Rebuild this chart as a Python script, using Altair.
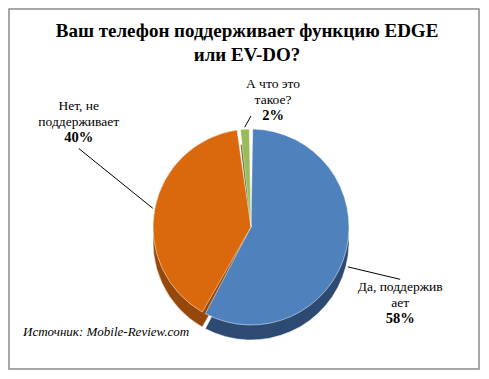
import altair as alt
import pandas as pd

# ---- data ----
title_text = "Ваш телефон поддерживает функцию EDGE\nили EV-DO?"
categories = ["Да, поддерживает", "Нет, не поддерживает", "А что это такое?"]
label_lines = ["Да, поддержив\nает", "Нет, не\nподдерживает", "А что это\nтакое?"]
values = [58, 40, 2]
source_text = "Источник: Mobile-Review.com"

df = pd.DataFrame({"cat": categories, "label": label_lines, "value": values,
                   "idx": list(range(len(categories)))})

# ---- layout / style ----
W, H = 470, 360
CX, CY = 242, 218
R = 98
DEPTH = 15
FONT = "Liberation Serif"
top_colors = ["#4F81BD", "#D9690C", "#9BBB59"]
side_colors = ["#2C4A72", "#95480A", "#4F6228"]
# label placement: (distance from centre, angular shift in degrees)
label_place = {0: (168, 13.0), 1: (201, 20.2), 2: (128, 13.5)}


def by_idx(pos):
    items = list(label_place.items())
    expr = f"{items[-1][1][pos]}"
    for k, v in reversed(items[:-1]):
        expr = f"datum.idx == {k} ? {v[pos]} : ({expr})"
    return expr


base = alt.Chart(df)

side = base.mark_arc(outerRadius=R, padAngle=0.035, stroke="white", strokeWidth=0.5).encode(
    theta=alt.Theta("value:Q", stack=True),
    order=alt.Order("idx:Q"),
    color=alt.Color("cat:N", scale=alt.Scale(domain=categories, range=side_colors), legend=None),
    x=alt.value(CX), y=alt.value(CY + DEPTH),
)

top = base.mark_arc(outerRadius=R, padAngle=0.035, stroke="white", strokeWidth=0.5).encode(
    theta=alt.Theta("value:Q", stack=True),
    order=alt.Order("idx:Q"),
    color=alt.Color("cat:N", scale=alt.Scale(domain=categories, range=top_colors), legend=None),
    x=alt.value(CX), y=alt.value(CY),
)

lab_base = base.transform_joinaggregate(total="sum(value)").transform_window(
    cum="sum(value)", sort=[alt.SortField("idx")], frame=[None, 0]
).transform_calculate(
    midraw="(datum.cum - datum.value / 2) / datum.total * 2 * PI",
    dist=by_idx(0),
    shift=by_idx(1),
    pct="datum.value + '%'",
).transform_calculate(
    mid="datum.midraw + datum.shift * PI / 180",
).transform_calculate(
    lx=f"{CX} + datum.dist * sin(datum.mid)",
    ly=f"{CY} - datum.dist * cos(datum.mid)",
    ex=f"{CX} + {R + 2} * sin(datum.midraw)",
    ey=f"{CY} - {R + 2} * cos(datum.midraw) + (cos(datum.midraw) < 0 ? {DEPTH} : 0)",
).transform_calculate(
    tx="abs(datum.ey - datum.ly) < 30 ? datum.lx - 22 : datum.lx",
    ty="abs(datum.ey - datum.ly) < 30 ? datum.ly + 15 : (datum.ey > datum.ly ? datum.ly + 25 : datum.ly - 25)",
)

names = lab_base.mark_text(font=FONT, fontSize=13.5, baseline="top", align="center",
                           lineBreak="\n", lineHeight=16, dy=-24, color="black").encode(
    x=alt.X("lx:Q", scale=None), y=alt.Y("ly:Q", scale=None), text="label:N")

pcts = lab_base.mark_text(font=FONT, fontSize=14.5, fontWeight="bold", baseline="top",
                          align="center", dy=8, color="black").encode(
    x=alt.X("lx:Q", scale=None), y=alt.Y("ly:Q", scale=None), text="pct:N")

leaders = lab_base.mark_rule(color="black", strokeWidth=1).encode(
    x=alt.X("tx:Q", scale=None), y=alt.Y("ty:Q", scale=None),
    x2="ex:Q", y2="ey:Q")

title = alt.Chart(pd.DataFrame({"t": [title_text]})).mark_text(
    font=FONT, fontSize=19, fontWeight="bold", align="center", baseline="top",
    lineBreak="\n", lineHeight=24, color="black").encode(
    x=alt.value(W / 2 + 3), y=alt.value(13), text="t:N")

source = alt.Chart(pd.DataFrame({"t": [source_text]})).mark_text(
    font=FONT, fontSize=13, fontStyle="italic", align="left", baseline="middle",
    color="black").encode(x=alt.value(14), y=alt.value(323), text="t:N")

chart = alt.layer(side, top, leaders, names, pcts, title, source).resolve_scale(
    color="independent"
).properties(
    width=W, height=H, padding=1, autosize="none", background="white"
).configure_view(stroke="#8a8a8a", strokeWidth=1.5)

chart.save("out.html", embed_options={"renderer": "svg", "actions": False})
